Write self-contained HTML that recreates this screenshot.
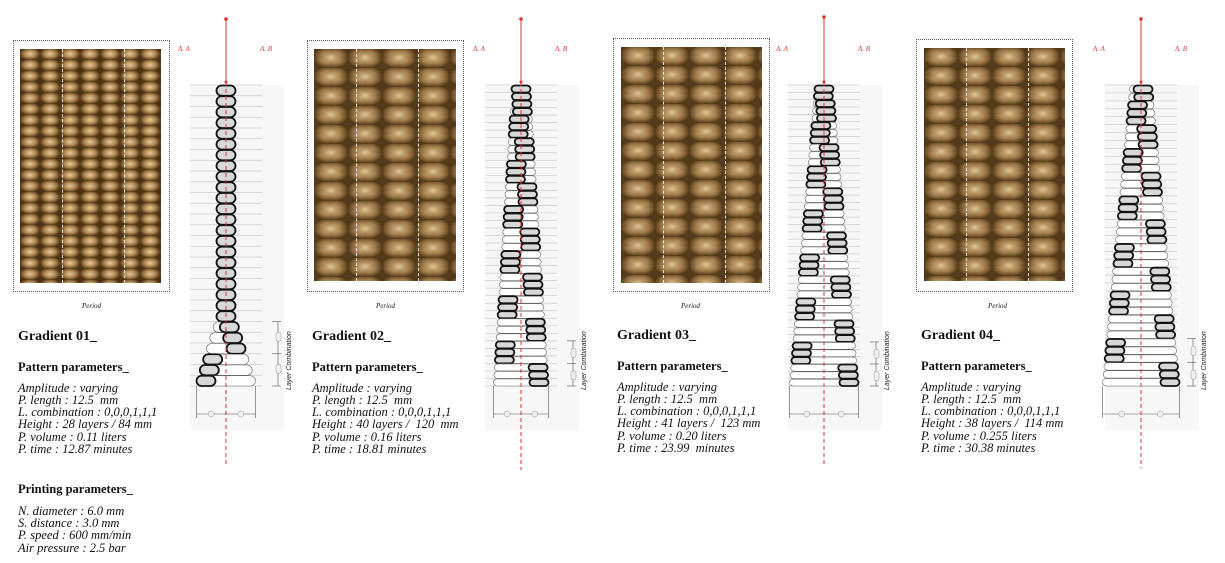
<!DOCTYPE html>
<html><head><meta charset="utf-8"><style>
body{margin:0;width:1225px;height:563px;background:#fff;position:relative;overflow:hidden;font-family:"Liberation Serif",serif;color:#111}
.box{position:absolute;border:1px dotted #555}
.photo{position:absolute;background:
radial-gradient(ellipse at 50% 45%,rgba(240,215,165,.9) 0,rgba(190,150,95,.7) 40%,rgba(70,45,15,.9) 75%) 0 0/20px 11px,
#8a6535}
.photo.big{background:
radial-gradient(ellipse at 50% 45%,rgba(240,215,165,.9) 0,rgba(190,150,95,.7) 40%,rgba(70,45,15,.9) 75%) 0 0/34px 19px,
radial-gradient(ellipse at 50% 45%,rgba(240,215,165,.9) 0,rgba(190,150,95,.7) 40%,rgba(70,45,15,.9) 75%) 17px 9px/34px 19px,
#8a6535}
.dl{position:absolute;top:0;bottom:0;border-left:1px dashed rgba(255,255,255,.85)}
.per{position:absolute;font-size:7px;font-style:italic}
.txt{position:absolute;font-size:12.5px;line-height:12.3px}
.txt h1{font-size:14px;margin:0 0 18px;font-weight:bold}
.txt h2{font-size:12.5px;margin:0 0 8px;font-weight:bold}
.txt p{font-style:italic;margin:0}
svg{position:absolute;left:0;top:0}
</style></head><body>
<div class="box" style="left:13px;top:40px;width:155px;height:250px"></div>
<div class="photo" style="left:20px;top:49px;width:141px;height:234px"><div class="dl" style="left:42px"></div><div class="dl" style="left:104px"></div></div>
<div class="per" style="left:82px;top:302px">Period</div>
<div class="box" style="left:307px;top:40px;width:155px;height:250px"></div>
<div class="photo big" style="left:314px;top:49px;width:142px;height:232px"><div class="dl" style="left:42px"></div><div class="dl" style="left:104px"></div></div>
<div class="per" style="left:376px;top:302px">Period</div>
<div class="box" style="left:613px;top:38px;width:155px;height:252px"></div>
<div class="photo big" style="left:621px;top:47px;width:141px;height:236px"><div class="dl" style="left:42px"></div><div class="dl" style="left:104px"></div></div>
<div class="per" style="left:681px;top:302px">Period</div>
<div class="box" style="left:916px;top:39px;width:155px;height:251px"></div>
<div class="photo big" style="left:924px;top:48px;width:141px;height:233px"><div class="dl" style="left:42px"></div><div class="dl" style="left:104px"></div></div>
<div class="per" style="left:988px;top:302px">Period</div>

<div class="txt" style="left:18px;top:331px"><h1>Gradient 01_</h1><h2>Pattern parameters_</h2><p>Amplitude : varying<br>P. length : 12.5 &nbsp;mm<br>L. combination : 0,0,0,1,1,1<br>Height : 28 layers / 84 mm<br>P. volume : 0.11 liters<br>P. time : 12.87 minutes</p>
<h2 style="margin-top:28px;margin-bottom:9px">Printing parameters_</h2><p>N. diameter : 6.0 mm<br>S. distance : 3.0 mm<br>P. speed : 600 mm/min<br>Air pressure : 2.5 bar</p></div>
<div class="txt" style="left:312px;top:331px"><h1>Gradient 02_</h1><h2>Pattern parameters_</h2><p>Amplitude : varying<br>P. length : 12.5 &nbsp;mm<br>L. combination : 0,0,0,1,1,1<br>Height : 40 layers / &nbsp;120 &nbsp;mm<br>P. volume : 0.16 liters<br>P. time : 18.81 minutes</p></div>
<div class="txt" style="left:617px;top:330px"><h1>Gradient 03_</h1><h2>Pattern parameters_</h2><p>Amplitude : varying<br>P. length : 12.5 &nbsp;mm<br>L. combination : 0,0,0,1,1,1<br>Height : 41 layers / &nbsp;123 mm<br>P. volume : 0.20 liters<br>P. time : 23.99 &nbsp;minutes</p></div>
<div class="txt" style="left:921px;top:330px"><h1>Gradient 04_</h1><h2>Pattern parameters_</h2><p>Amplitude : varying<br>P. length : 12.5 &nbsp;mm<br>L. combination : 0,0,0,1,1,1<br>Height : 38 layers / &nbsp;114 mm<br>P. volume : 0.255 liters<br>P. time : 30.38 minutes</p></div>

<svg id="s" width="1225" height="563" xmlns="http://www.w3.org/2000/svg"></svg>
<script>
var D=[{c:226,n:28,s:21,A:20,bs:-1,a0:0,top:19,bot:467},
{c:521,n:40,s:0,A:18,bs:1,a0:0,top:19,bot:470},
{c:824,n:41,s:0,A:25,bs:1,a0:0,top:17,bot:465},
{c:1141,n:38,s:0,A:27,bs:1,a0:2,top:19,bot:468}];
var h='';
D.forEach(function(d){
 var y0=85,y1=386,lh=(y1-y0)/d.n,c=d.c;
 h+='<rect x="'+(c-36)+'" y="'+(y0)+'" width="94" height="345" fill="#f7f7f7"/>';
 for(var i=0;i<=d.n;i++){var y=y0+i*lh;h+='<line x1="'+(c-36)+'" x2="'+(c+36)+'" y1="'+y+'" y2="'+y+'" stroke="#ccc" stroke-width="0.7"/>';}
 var bw=19;
 for(var i=0;i<d.n;i++){
  var a=d.a0+(i<d.s?0:d.A*(i-d.s)/(d.n-1-d.s));
  var k=Math.floor((d.n-1-i)/3),sg=(k%2==0?d.bs:-d.bs);
  var y=y0+i*lh+0.5,hh=lh-0.5;
  if(a>1)h+='<rect x="'+(c-bw/2-a)+'" y="'+y+'" width="'+(bw+2*a)+'" height="'+hh+'" rx="'+hh/2+'" fill="#fff" stroke="#666" stroke-width="0.6"/>';
  h+='<rect x="'+(c-bw/2+sg*a)+'" y="'+y+'" width="'+bw+'" height="'+hh+'" rx="'+hh/2+'" fill="#d8d8d8" stroke="#111" stroke-width="1.8"/>';
 }
 var L=d.c+d.A+d.a0+bw/2;
 h+='<line x1="'+c+'" x2="'+c+'" y1="'+d.top+'" y2="82" stroke="#d33" stroke-width="1"/><circle cx="'+c+'" cy="'+d.top+'" r="1.8" fill="#d33"/><circle cx="'+c+'" cy="82" r="1.5" fill="#d33"/>';
 h+='<line x1="'+c+'" x2="'+c+'" y1="82" y2="'+d.bot+'" stroke="#d33" stroke-width="1" stroke-dasharray="4,3"/>';
 h+='<text x="'+(c-48)+'" y="51" font-size="7" font-style="italic" fill="#d33" font-family="Liberation Serif">A. A</text><text x="'+(c+34)+'" y="51" font-size="7" font-style="italic" fill="#d33" font-family="Liberation Serif">A. B</text>';
 var w=L-c;
 h+='<line x1="'+(c-w)+'" x2="'+(c+w)+'" y1="414" y2="414" stroke="#555" stroke-width="0.6"/><line x1="'+(c-w)+'" x2="'+(c-w)+'" y1="386" y2="418" stroke="#555" stroke-width="0.6"/><line x1="'+(c+w)+'" x2="'+(c+w)+'" y1="386" y2="418" stroke="#555" stroke-width="0.6"/>';
 h+='<circle cx="'+(c-w/2)+'" cy="414" r="3" fill="#eee" stroke="#999" stroke-width="0.5"/><circle cx="'+(c+w/2)+'" cy="414" r="3" fill="#eee" stroke="#999" stroke-width="0.5"/>';
 var dx=c+52;
 h+='<line x1="'+dx+'" x2="'+dx+'" y1="'+(y1-6*lh)+'" y2="'+y1+'" stroke="#555" stroke-width="0.6"/>';
 [0,3,6].forEach(function(j){var yy=y1-j*lh;h+='<line x1="'+(dx-6)+'" x2="'+(dx+3)+'" y1="'+yy+'" y2="'+yy+'" stroke="#555" stroke-width="0.6"/>';});
 h+='<rect x="'+(dx-2)+'" y="'+(y1-5*lh)+'" width="5" height="9" rx="2" fill="#eee" stroke="#999" stroke-width="0.5"/><rect x="'+(dx-2)+'" y="'+(y1-2*lh)+'" width="5" height="9" rx="2" fill="#eee" stroke="#999" stroke-width="0.5"/>';
 h+='<text transform="translate('+(dx+13)+','+(y1+4)+') rotate(-90)" font-size="7" font-style="italic" font-family="Liberation Sans" fill="#222">Layer Combination</text>';
});
document.getElementById('s').innerHTML=h;
</script>
</body></html>
